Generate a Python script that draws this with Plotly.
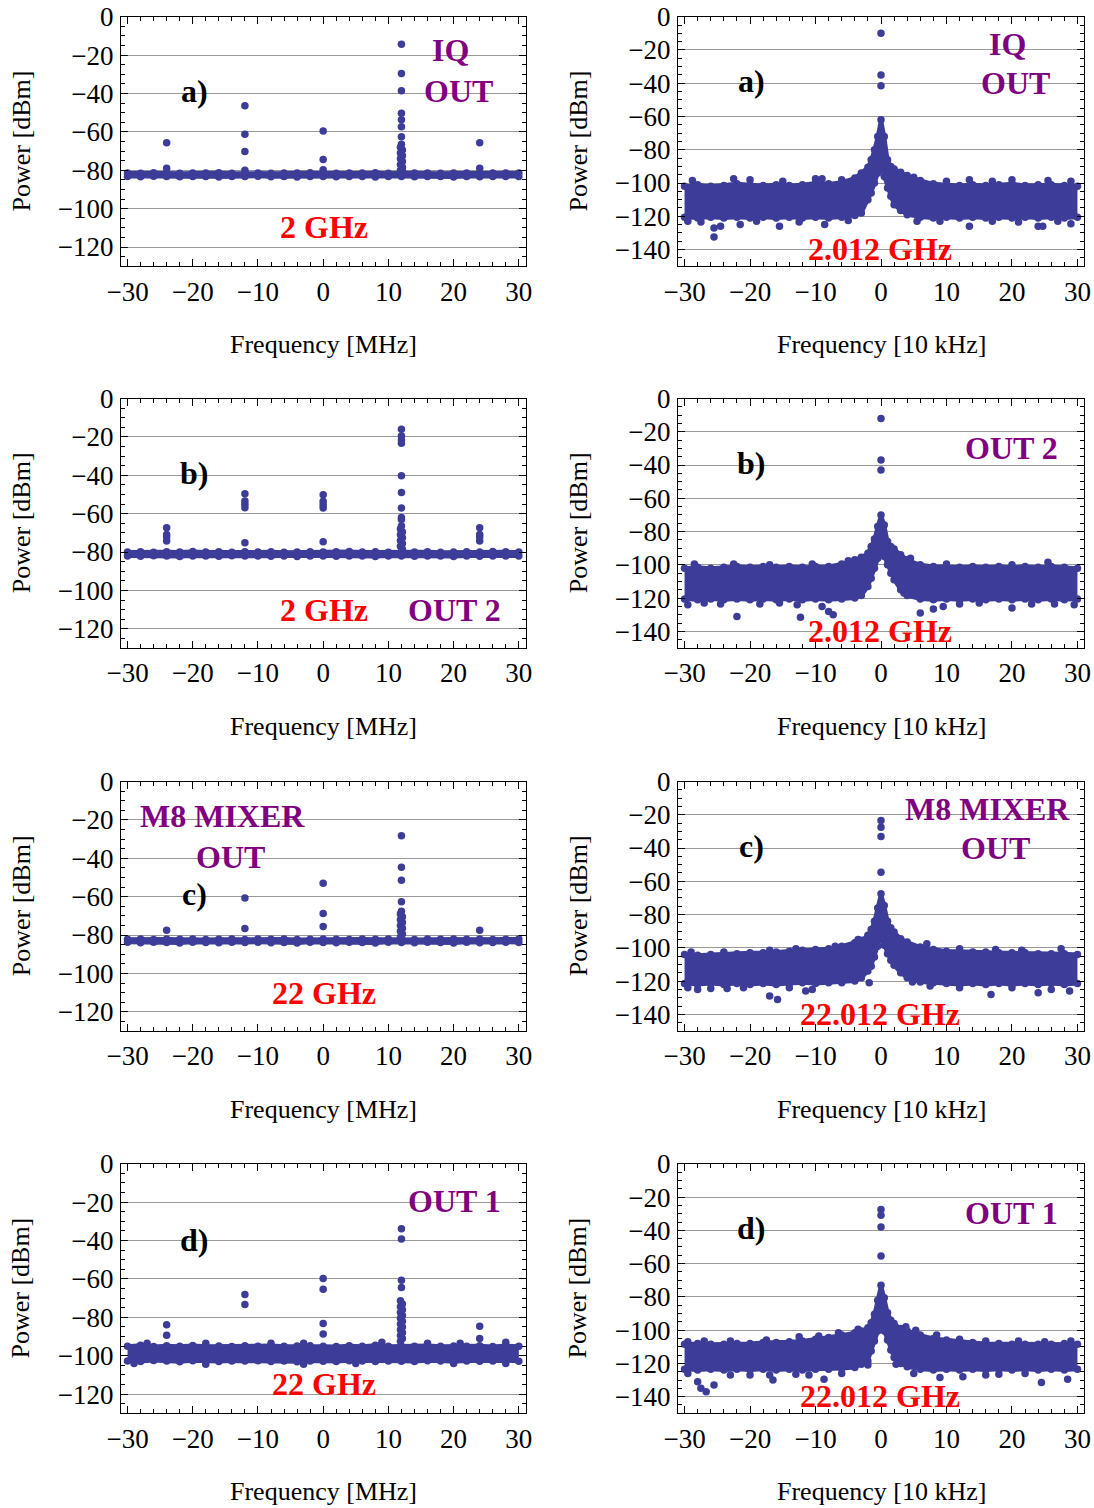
import plotly.graph_objects as go

W, H = 1094, 1508
MARK = "#3d3d99"
PURPLE = "#800080"
RED = "#ff0000"
FONT = "Liberation Serif"

# ---------------- data: left column (Frequency [MHz]) ----------------
LX = [-30, -28, -26, -24, -22, -20, -18, -16, -14, -12, -10, -8, -6, -4, -2, 0,
      2, 4, 6, 8, 10, 12, 14, 16, 18, 20, 22, 24, 26, 28, 30]

A_L_UP = [-81.4, -81.6, -81.3, -81.5, -81.6, -81.4, -81.5, -81.3, -81.6, -81.4, -81.5,
          -81.6, -81.4, -81.5, -81.3, -81.5, -81.6, -81.4, -81.5, -81.3, -81.6, -81.3,
          -81.5, -81.4, -81.6, -81.5, -81.4, -81.6, -81.5, -81.4, -81.5]
A_L_LO = [-83.2, -83.4, -83.1, -83.3, -83.4, -83.2, -83.3, -83.5, -83.2, -83.3, -83.1,
          -83.4, -83.3, -83.5, -83.2, -83.3, -83.4, -83.2, -83.3, -83.5, -83.2, -83.3,
          -83.4, -83.2, -83.3, -83.5, -83.2, -83.4, -83.3, -83.2, -83.3]
A_L_DOT_X = [-24, -24, -12, -12, -12, -12, 0, 0, 0,
             12, 12, 12, 12, 12, 12, 12, 12,
             11.85, 12.15, 11.85, 12.15, 11.85, 12.15, 11.85, 12.15, 11.85, 12.15,
             24, 24]
A_L_DOT_Y = [-65.7, -79.0, -46.4, -61.2, -70.3, -80.0, -59.5, -74.4, -79.8,
             -14.3, -29.6, -38.6, -50.3, -53.7, -57.4, -62.6, -66.4,
             -68.0, -69.5, -71.0, -72.5, -74.0, -75.5, -77.0, -78.5, -80.0, -80.0,
             -65.7, -79.0]

B_L_UP = [-80.0, -79.8, -80.1, -79.9, -80.0, -79.7, -80.0, -79.9, -80.1, -79.8, -80.0,
          -79.9, -80.1, -80.0, -79.8, -80.0, -79.9, -79.7, -80.0, -79.9, -80.1, -79.8,
          -80.0, -79.9, -80.1, -80.0, -79.8, -80.0, -79.7, -79.9, -80.0]
B_L_LO = [-82.0, -82.2, -81.9, -82.1, -82.3, -82.0, -82.1, -82.2, -81.9, -82.1, -82.0,
          -82.2, -82.1, -82.3, -82.0, -82.1, -82.2, -82.0, -82.1, -82.3, -82.0, -82.1,
          -82.2, -82.0, -82.1, -82.3, -82.0, -82.2, -82.1, -82.0, -82.1]
B_L_DOT_X = [-24, -24, -24, -24, -12, -12, -12, -12, -12, 0, 0, 0, 0, 0,
             12, 12, 12, 12, 12, 12, 12, 12, 12, 12,
             11.85, 12.15, 11.85, 12.15, 11.85, 12.15, 11.85, 12.15,
             24, 24, 24, 24]
B_L_DOT_Y = [-67.3, -70.8, -72.2, -74.3, -49.6, -53.4, -55.1, -56.9, -75.1,
             -50.1, -53.6, -55.3, -57.0, -74.6,
             -16.0, -19.5, -21.6, -23.3, -40.3, -49.0, -57.0, -62.0, -63.0, -66.4,
             -68.0, -69.5, -71.0, -72.5, -74.0, -75.5, -77.0, -78.5,
             -67.3, -70.8, -72.2, -74.3]

C_L_UP = [-82.2, -82.0, -82.3, -82.1, -82.2, -82.0, -82.3, -82.2, -82.1, -82.3, -82.0,
          -82.2, -82.1, -82.3, -82.2, -82.0, -82.2, -82.3, -82.1, -82.2, -82.0, -82.2,
          -82.3, -82.1, -82.2, -82.0, -82.2, -82.1, -82.3, -82.2, -82.1]
C_L_LO = [-83.8, -84.0, -83.7, -83.9, -84.1, -83.8, -83.9, -84.0, -83.8, -83.9, -83.7,
          -84.0, -83.9, -84.1, -83.8, -83.9, -84.0, -83.8, -83.9, -84.1, -83.8, -83.9,
          -84.0, -83.8, -83.9, -84.1, -83.8, -84.0, -83.9, -83.8, -83.9]
C_L_DOT_X = [-24, -12, -12, 0, 0, 0,
             12, 12, 12, 12, 12,
             11.85, 12.15, 11.85, 12.15, 11.85, 12.15, 11.85, 12.15, 11.85,
             24]
C_L_DOT_Y = [-77.5, -60.7, -76.6, -53.0, -68.8, -75.6,
             -28.3, -44.7, -51.5, -62.6, -67.6,
             -69.0, -70.5, -72.0, -73.5, -75.0, -76.5, -78.0, -79.5, -81.0,
             -77.5]

D_L_UP = [-95.0, -94.6, -95.2, -94.8, -95.1, -94.7, -95.0, -94.9, -95.2, -94.8, -95.0,
          -94.7, -95.1, -94.9, -94.8, -95.0, -95.2, -94.8, -95.0, -94.6, -95.1, -94.9,
          -95.0, -94.7, -95.1, -94.9, -95.0, -94.8, -95.2, -94.7, -95.0]
D_L_LO = [-102.7, -103.0, -102.5, -102.8, -103.1, -102.6, -102.9, -103.0, -102.7, -102.8,
          -102.6, -103.0, -102.8, -103.1, -102.7, -102.9, -103.0, -102.6, -102.8, -103.0,
          -102.7, -102.9, -103.0, -102.6, -102.8, -103.1, -102.7, -102.9, -102.8, -102.6,
          -102.9]
D_L_DOT_X = [-24, -24, -12, -12, 0, 0, 0, 0,
             12, 12, 12, 12,
             11.85, 12.15, 11.85, 12.15, 11.85, 12.15, 11.85, 12.15, 11.85, 12.15,
             11.85, 12.15, 11.85, 12.15, 11.85,
             24, 24,
             -27, -18, -8, -3, 9, 16, 21, 28,
             -29, -18, -3, 5, 20, 28]
D_L_DOT_Y = [-83.9, -89.3, -68.1, -73.3, -59.8, -65.3, -83.2, -88.7,
             -33.8, -39.2, -60.7, -64.5,
             -71.4, -73.0, -74.5, -76.0, -77.5, -79.0, -80.5, -82.0, -83.5, -85.0,
             -86.5, -88.0, -89.5, -91.0, -92.5,
             -84.7, -91.0,
             -93.5, -93.5, -93.5, -93.5, -93.0, -93.5, -93.5, -93.0,
             -104.0, -104.5, -104.5, -104.0, -104.0, -104.0]

# ---------------- data: right column (Frequency [10 kHz]) ----------------
RX = [-30, -28, -26, -24, -22, -20, -18, -16, -14, -12, -10, -8, -6, -4, -3, -2,
      -1.5, -1, -0.5, 0, 0.5, 1, 1.5, 2, 3, 4, 6, 8, 10, 12, 14, 16, 18, 20, 22,
      24, 26, 28, 30]

A_R_UP = [-102, -101, -102, -101.5, -100.5, -101, -101.5, -101, -101.5, -101, -100,
          -100.5, -99.5, -97, -94, -90.5, -86, -80, -72, -62, -72, -86, -90, -91.5,
          -93.5, -95.5, -98.5, -100.5, -101, -101.5, -101, -101.5, -101, -100.5,
          -101.5, -101, -101, -101.5, -102]
A_R_LO = [-120.5, -121, -120.5, -121, -120.5, -121, -120.5, -121, -120.5, -121, -120.5,
          -121, -120.5, -119.5, -118, -110, -106, -100, -94, -89, -96, -103, -108,
          -113, -116.5, -119, -120.5, -121, -120.5, -121, -120.5, -121, -120.5, -121,
          -120.5, -121, -120.5, -121, -120.5]
A_R_DOT_X = [0, 0, 0,
             -29.5, -27.5, -25.5, -25.5, -24.5, -21.5, -19, -15.5, -12.5, -8.6, -5,
             5.5, 9, 13.5, 17, 21, 24, 24.7, 27, 29,
             -28.8, -22.5, -20, -15, -10, -9, -6, 5, 10, 13.5, 17, 20, 25.5, 29]
A_R_DOT_Y = [-10, -35, -41.5,
             -123, -123.5, -127, -132.5, -126, -125, -123, -126, -123.5, -125, -122.5,
             -123, -123, -126, -123, -123.5, -126, -126, -123, -124.5,
             -98.5, -97.5, -98, -99, -97.5, -97.5, -98, -96.5, -99, -98, -99, -98,
             -98.5, -99]

B_R_UP = [-102, -101.5, -102, -101.5, -101, -101.5, -101, -101.5, -101, -101.5, -101,
          -101, -99.5, -97, -95.5, -93, -89, -84.5, -77, -70, -76, -86, -89, -90.5,
          -94, -97, -100, -101, -101, -101.5, -101, -101.5, -101, -101.5, -101,
          -101.5, -101, -101.5, -102]
B_R_LO = [-120.5, -121, -120.5, -121, -120.5, -121, -120.5, -121, -120.5, -121, -120.5,
          -121, -120.5, -120, -118.5, -113, -108, -102, -96, -91, -95, -100, -105,
          -109, -115, -118.5, -120.5, -121, -120.5, -121, -120.5, -121, -120.5, -121,
          -120.5, -121, -120.5, -121, -120.5]
B_R_DOT_X = [0, 0, 0,
             -29.5, -27, -24.5, -22, -18.5, -15.5, -12.3, -12.8, -9, -8, -7.3, -3,
             3.5, 6, 8, 9.5, 12, 15, 20, 23, 26.5, 29.5,
             -28.5, -22.5, -17, -10.5, -5, 4.5, 10, 20, 25.5]
B_R_DOT_Y = [-12, -37, -43,
             -124, -123, -123.5, -131, -123.5, -123, -131.5, -124, -125, -128, -130,
             -114.5, -117, -129, -126.5, -125, -123.5, -123, -126, -123.5, -123.5, -124,
             -99.5, -99.5, -100, -99.5, -97.5, -96, -99.5, -100, -98.5]

C_R_UP = [-104, -104.5, -104, -103.5, -103.5, -103, -103, -102.5, -102, -101.5, -101,
          -100.5, -99, -97, -95.5, -92.5, -89, -84, -76, -67.5, -74.5, -84, -88, -90.5,
          -94.5, -96.5, -99.5, -101, -102, -102, -102.5, -102.5, -103, -103, -103,
          -103.5, -103.5, -103.5, -104]
C_R_LO = [-121.5, -122, -121.5, -122, -121.5, -122, -121.5, -122, -121.5, -121, -121.5,
          -121, -121, -120, -118, -114, -111, -105.5, -99, -93, -98.5, -103.5, -107.5,
          -110.5, -115, -118, -120.5, -121, -121.5, -122, -121.5, -122, -121.5, -122,
          -121.5, -122, -121.5, -122, -121.5]
C_R_DOT_X = [0, 0, 0, 0,
             -29.5, -28, -26, -23.5, -21, -17, -15.8, -14, -11.5, -10.5, -1.8, 4.8,
             7.5, 12, 16.8, 20, 24, 26, 28.8,
             -29, -24, -17, -13, -7, -3.5, 7, 12, 17.5, 21.5, 27.5]
C_R_DOT_Y = [-23.5, -27.5, -33, -54.5,
             -124, -125, -124.5, -124.5, -124, -129, -131, -124, -126, -125, -121,
             -120.5, -123, -124, -128, -124, -127, -125, -126,
             -102.5, -102.5, -101.5, -100.5, -99, -95, -97.5, -100.5, -101, -101.5,
             -100.5]

D_R_UP = [-108.5, -108, -108.5, -108.5, -108, -108, -107.5, -107.5, -107, -106.5,
          -105.5, -104.5, -103, -101.5, -100.5, -98.5, -95.5, -90.5, -82, -73, -80.5,
          -89.5, -94, -96, -99, -100.5, -103, -105, -106, -107, -107.5, -108, -108,
          -108.5, -108.5, -108.5, -108.5, -108, -108.5]
D_R_LO = [-123.5, -124, -123.5, -124, -123.5, -124, -123.5, -124, -123.5, -124, -123.5,
          -123.5, -123, -122.5, -120.5, -118.5, -112.5, -106.5, -100.5, -95.5, -100.5,
          -106, -112, -116.5, -120, -122, -123.5, -124, -123.5, -124, -123.5, -124,
          -123.5, -124, -123.5, -124, -123.5, -124, -123.5]
D_R_DOT_X = [0, 0, 0, 0,
             -29.5, -28, -27.5, -26.7, -25.5, -23, -20, -17, -16.5, -13, -11, -8.7, -6,
             -2, 2.3, 5, 9, 12.5, 16, 18, 22, 24.5, 28.5,
             -29.5, -27, -23, -17.5, -12.5, -9.5, -6.5, -3.5, 3.8, 5.3, 8.5, 12, 16,
             21, 25, 29]
D_R_DOT_Y = [-27.5, -31, -38, -55.5,
             -126, -131, -135, -137, -133, -127, -127, -127, -130, -126.5, -127, -129.5,
             -126, -121, -120.5, -126, -128.5, -128, -127, -126.5, -126, -131.5, -129.5,
             -107, -106.5, -106.5, -106, -104, -103.5, -101.5, -99.5, -98, -100, -103,
             -105.5, -106.5, -106.5, -107, -106.5]

X_TICKS = [-30, -20, -10, 0, 10, 20, 30]
Y_TICKS_L = [0, -20, -40, -60, -80, -100, -120]
Y_TICKS_R = [0, -20, -40, -60, -80, -100, -120, -140]

# ---------------- layout geometry (pixels) ----------------
COL_X = [(121, 526), (678, 1084)]
ROW_TOP = [16.7, 398.5, 781.5, 1163.8]
BOX_H = 249.5


def px(xp, yp):
    return xp / W, 1 - yp / H


panels = [
    (0, 0, LX, A_L_UP, A_L_LO, A_L_DOT_X, A_L_DOT_Y),
    (0, 1, RX, A_R_UP, A_R_LO, A_R_DOT_X, A_R_DOT_Y),
    (1, 0, LX, B_L_UP, B_L_LO, B_L_DOT_X, B_L_DOT_Y),
    (1, 1, RX, B_R_UP, B_R_LO, B_R_DOT_X, B_R_DOT_Y),
    (2, 0, LX, C_L_UP, C_L_LO, C_L_DOT_X, C_L_DOT_Y),
    (2, 1, RX, C_R_UP, C_R_LO, C_R_DOT_X, C_R_DOT_Y),
    (3, 0, LX, D_L_UP, D_L_LO, D_L_DOT_X, D_L_DOT_Y),
    (3, 1, RX, D_R_UP, D_R_LO, D_R_DOT_X, D_R_DOT_Y),
]

fig = go.Figure()
layout = dict(width=W, height=H,
              margin=dict(l=0, r=0, t=0, b=0, pad=0, autoexpand=False),
              autosize=False,
              paper_bgcolor="white", plot_bgcolor="white", showlegend=False,
              font=dict(family=FONT, size=26, color="black"))
annotations = []

tickfont = dict(family=FONT, size=27, color="black")

for i, (r, c, ex, up, lo, dx, dy) in enumerate(panels):
    n = i + 1
    xa = "x" if n == 1 else f"x{n}"
    ya = "y" if n == 1 else f"y{n}"
    x0, x1 = COL_X[c]
    top = ROW_TOP[r]
    bot = top + BOX_H
    xd = [x0 / W, x1 / W]
    yd = [1 - bot / H, 1 - top / H]
    xr = [-31.0, 31.1] if c == 0 else [-31.0, 31.0]
    yr = [-130, 0] if c == 0 else [-150, 0]
    layout["xaxis" if n == 1 else f"xaxis{n}"] = dict(
        domain=xd, anchor=ya, range=xr, tickmode="array", tickvals=X_TICKS,
        ticks="inside", ticklen=7, tickwidth=1, tickcolor="black",
        showline=True, linecolor="black", linewidth=1, mirror="allticks",
        showgrid=False, zeroline=False, tickfont=tickfont, ticklabelstandoff=1,
        automargin=False,
        minor=dict(tickmode="linear", tick0=0, dtick=2, ticks="inside", ticklen=4,
                   tickwidth=1, tickcolor="black", showgrid=False),
        fixedrange=True)
    layout["yaxis" if n == 1 else f"yaxis{n}"] = dict(
        domain=yd, anchor=xa, range=yr, tickmode="array",
        tickvals=Y_TICKS_L if c == 0 else Y_TICKS_R,
        ticks="inside", ticklen=7, tickwidth=1, tickcolor="black",
        showline=True, linecolor="black", linewidth=1, mirror="allticks",
        showgrid=True, gridcolor="#999999", gridwidth=1, zeroline=False,
        tickfont=tickfont, ticklabelstandoff=1, automargin=False,
        minor=dict(tickmode="linear", tick0=0, dtick=5, ticks="inside", ticklen=4,
                   tickwidth=1, tickcolor="black", showgrid=False),
        fixedrange=True)

    common = dict(xaxis=xa, yaxis=ya, hoverinfo="skip", showlegend=False)
    fig.add_trace(go.Scatter(x=ex, y=lo, mode="lines+markers",
                             line=dict(color=MARK, width=4),
                             marker=dict(size=7.5, color=MARK), **common))
    fig.add_trace(go.Scatter(x=ex, y=up, mode="lines+markers", fill="tonexty",
                             fillcolor=MARK, line=dict(color=MARK, width=4),
                             marker=dict(size=7.5, color=MARK), **common))
    fig.add_trace(go.Scatter(x=dx, y=dy, mode="markers",
                             marker=dict(size=7.5, color=MARK), **common))

    # axis titles
    cx = (x0 + x1) / 2
    ax, ay = px(cx, bot + 78)
    xtitle = "Frequency [MHz]" if c == 0 else "Frequency [10 kHz]"
    annotations.append(dict(text=xtitle, x=ax, y=ay, xref="paper", yref="paper",
                            showarrow=False, xanchor="center", yanchor="middle",
                            font=dict(family=FONT, size=26, color="black")))
    tx = 21 if c == 0 else 578
    ax, ay = px(tx, (top + bot) / 2)
    annotations.append(dict(text="Power [dBm]", x=ax, y=ay, xref="paper", yref="paper",
                            showarrow=False, xanchor="center", yanchor="middle",
                            textangle=-90,
                            font=dict(family=FONT, size=26, color="black")))

# panel labels: (text, x_px, y_px, color)
LABELS = [
    ("a)", 194, 91, "black"), ("IQ", 450, 50, PURPLE), ("OUT", 458, 91, PURPLE),
    ("2 GHz", 324, 227, RED),
    ("a)", 751, 81, "black"), ("IQ", 1007, 44, PURPLE), ("OUT", 1015, 83, PURPLE),
    ("2.012 GHz", 880, 249, RED),
    ("b)", 194, 473, "black"), ("2 GHz", 324, 610, RED), ("OUT 2", 454, 610, PURPLE),
    ("b)", 751, 463, "black"), ("OUT 2", 1011, 448, PURPLE),
    ("2.012 GHz", 880, 631, RED),
    ("M8 MIXER", 222, 816, PURPLE), ("OUT", 230, 857, PURPLE), ("c)", 194, 894, "black"),
    ("22 GHz", 324, 993, RED),
    ("c)", 751, 846, "black"), ("M8 MIXER", 987, 809, PURPLE), ("OUT", 995, 848, PURPLE),
    ("22.012 GHz", 880, 1014, RED),
    ("d)", 194, 1240, "black"), ("OUT 1", 454, 1201, PURPLE), ("22 GHz", 324, 1384, RED),
    ("d)", 751, 1228, "black"), ("OUT 1", 1011, 1213, PURPLE),
    ("22.012 GHz", 880, 1396, RED),
]
for text, xp, yp, col in LABELS:
    ax, ay = px(xp, yp)
    annotations.append(dict(text=f"<b>{text}</b>", x=ax, y=ay, xref="paper",
                            yref="paper", showarrow=False, xanchor="center",
                            yanchor="middle",
                            font=dict(family=FONT, size=32, color=col)))

layout["annotations"] = annotations
fig.update_layout(**layout)
fig.write_html("out.html",
               config={"displayModeBar": False, "staticPlot": True},
               post_script="document.body.style.margin='0px';"
                           "document.body.style.overflow='hidden';")
